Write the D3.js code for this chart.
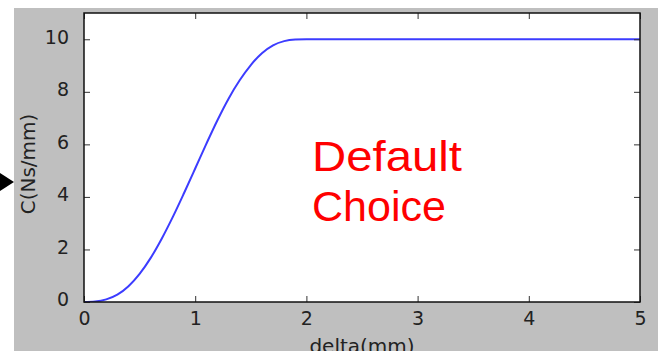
<!DOCTYPE html>
<html>
<head>
<meta charset="utf-8">
<script src="https://cdn.jsdelivr.net/npm/d3@7"></script>
<style>
  html, body { margin: 0; padding: 0; background: #ffffff; }
  svg { display: block; }
</style>
</head>
<body>
<div id="chart"></div>
<script>
// Data
const deltaValues = [0, 0.1, 0.2, 0.3, 0.4, 0.5, 0.6, 0.7, 0.8, 0.9, 1.0,
                     1.1, 1.2, 1.3, 1.4, 1.5, 1.6, 1.7, 1.8, 1.9, 2.0, 2.5, 3, 4, 5];
const cValues = [0, 0.02, 0.1, 0.28, 0.6, 1.07, 1.68, 2.42, 3.25, 4.15, 5.08,
                 6.02, 6.92, 7.74, 8.44, 9.02, 9.47, 9.77, 9.93, 9.99, 10, 10, 10, 10, 10];
const xTicks = [0, 1, 2, 3, 4, 5];
const yTicks = [0, 2, 4, 6, 8, 10];
const xLabel = 'delta(mm)';
const yLabel = 'C(Ns/mm)';
const noteLines = ['Default', 'Choice'];

const W = 658, H = 351;
const plot = { left: 84, top: 13, right: 640, bottom: 302 };

const svg = d3.select('#chart').append('svg')
    .attr('width', W)
    .attr('height', H);

// Figure background (grey) - white strip above/left
svg.append('rect')
    .attr('x', 14).attr('y', 8)
    .attr('width', W - 14).attr('height', H - 8)
    .attr('fill', '#bfbfbf');

// Arrow head poking in from the left
svg.append('path')
    .attr('d', 'M0,173 L14,182 L0,191 Z')
    .attr('fill', '#000');

const x = d3.scaleLinear().domain([0, 5]).range([plot.left, plot.right]);
const y = d3.scaleLinear().domain([0, 11]).range([plot.bottom, plot.top]);

// axes background
svg.append('rect')
    .attr('x', plot.left).attr('y', plot.top)
    .attr('width', plot.right - plot.left)
    .attr('height', plot.bottom - plot.top)
    .attr('fill', '#ffffff');

const data = deltaValues.map((d, i) => ({ x: d, y: cValues[i] }));

const line = d3.line()
    .x(d => x(d.x))
    .y(d => y(d.y))
    .curve(d3.curveMonotoneX);

svg.append('clipPath').attr('id', 'clip')
    .append('rect')
    .attr('x', plot.left).attr('y', plot.top - 2)
    .attr('width', plot.right - plot.left)
    .attr('height', plot.bottom - plot.top + 2);

svg.append('path')
    .datum(data)
    .attr('d', line)
    .attr('fill', 'none')
    .attr('stroke', '#3c3cff')
    .attr('stroke-width', 2)
    .attr('clip-path', 'url(#clip)');

// Ticks (inside, on all four sides)
const tickLen = 6;
const tickColor = '#333';
const fontFamily = '"DejaVu Sans", sans-serif';

// bottom axis
const xAxis = d3.axisBottom(x).tickValues(xTicks).tickSizeInner(-tickLen).tickSizeOuter(0)
    .tickPadding(10).tickFormat(d3.format('d'));
const gx = svg.append('g').attr('transform', `translate(0,${plot.bottom})`).call(xAxis);
gx.select('.domain').remove();
gx.selectAll('line').attr('stroke', tickColor);
gx.selectAll('text')
    .attr('font-family', fontFamily).attr('font-size', 19).attr('fill', '#222');

// top ticks
const gxt = svg.append('g').attr('transform', `translate(0,${plot.top})`)
    .call(d3.axisTop(x).tickValues(xTicks).tickSizeInner(-tickLen).tickSizeOuter(0).tickFormat(''));
gxt.select('.domain').remove();
gxt.selectAll('line').attr('stroke', tickColor);

// left axis
const yAxis = d3.axisLeft(y).tickValues(yTicks).tickSizeInner(-tickLen).tickSizeOuter(0)
    .tickPadding(15).tickFormat(d3.format('d'));
const gy = svg.append('g').attr('transform', `translate(${plot.left},0)`).call(yAxis);
gy.select('.domain').remove();
gy.selectAll('line').attr('stroke', tickColor);
gy.selectAll('text')
    .attr('font-family', fontFamily).attr('font-size', 19).attr('fill', '#222')
    .attr('dy', '0.2em');

// right ticks
const gyr = svg.append('g').attr('transform', `translate(${plot.right},0)`)
    .call(d3.axisRight(y).tickValues(yTicks).tickSizeInner(-tickLen).tickSizeOuter(0).tickFormat(''));
gyr.select('.domain').remove();
gyr.selectAll('line').attr('stroke', tickColor);

// spines
svg.append('rect')
    .attr('x', plot.left).attr('y', plot.top)
    .attr('width', plot.right - plot.left)
    .attr('height', plot.bottom - plot.top)
    .attr('fill', 'none')
    .attr('stroke', '#111')
    .attr('stroke-width', 1.5);

// axis labels
svg.append('text')
    .attr('x', (plot.left + plot.right) / 2)
    .attr('y', 353)
    .attr('text-anchor', 'middle')
    .attr('font-family', fontFamily)
    .attr('font-size', 20)
    .attr('fill', '#222')
    .text(xLabel);

svg.append('text')
    .attr('transform', `translate(35,164) rotate(-90)`)
    .attr('text-anchor', 'middle')
    .attr('font-family', fontFamily)
    .attr('font-size', 20)
    .attr('fill', '#222')
    .text(yLabel);

// red annotation
noteLines.forEach((t, i) => {
    const txt = svg.append('text')
        .attr('x', 312)
        .attr('y', 171 + i * 50)
        .attr('font-family', '"Liberation Sans", Arial, sans-serif')
        .attr('font-size', 43)
        .attr('fill', '#ff0000')
        .text(t);
    if (i === 0) txt.attr('textLength', 150).attr('lengthAdjust', 'spacingAndGlyphs');
});
</script>
</body>
</html>
